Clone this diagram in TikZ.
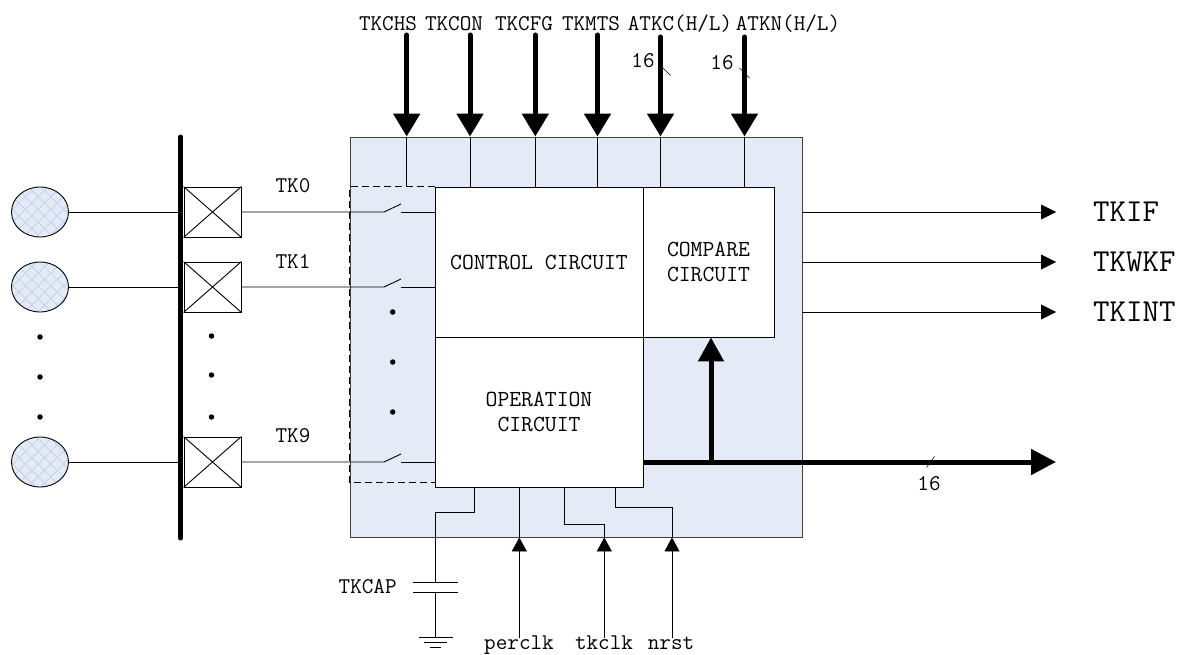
\documentclass[tikz,border=0pt]{standalone}
\usepackage{tikz}
\usetikzlibrary{arrows.meta,patterns.meta,shapes.geometric}
\pgfdeclarelayer{background}
\pgfdeclarelayer{foreground}
\pgfsetlayers{background,main,foreground}
\definecolor{sysblue}{HTML}{E4EBF6}
\definecolor{hatchblue}{HTML}{BFD0EA}
\tikzset{
  wire/.style={draw=black,line width=0.9pt},
  block/.style={draw=black,line width=0.9pt,fill=white,inner sep=0pt,font=\ttfamily\fontsize{23}{25}\selectfont,align=center},
  tag/.style={inner sep=0pt,font=\ttfamily\fontsize{22.5}{24}\selectfont},
  bigtag/.style={inner sep=0pt,anchor=west,font=\ttfamily\fontsize{32}{34}\selectfont},
  busin/.style={line width=5pt,line cap=round,-{Triangle[length=23pt,width=26pt]}},
  busout/.style={line width=5pt,-{Triangle[length=25pt,width=25pt]}},
  sigin/.style={wire,-{Triangle[length=14pt,width=15pt]}},
  sigout/.style={wire,-{Triangle[length=15pt,width=15pt]}},
  dotmark/.style={circle,fill=black,inner sep=0pt,minimum size=5.5pt},
  electrode/.style={ellipse,draw=black,line width=0.9pt,inner sep=0pt,minimum width=57pt,minimum height=50pt,
    preaction={fill=sysblue},
    preaction={pattern={Lines[angle=45,distance=9pt,line width=0.7pt]},pattern color=hatchblue},
    preaction={pattern={Lines[angle=-45,distance=9pt,line width=0.7pt]},pattern color=hatchblue}},
  pad/.style={draw=black,line width=0.9pt,inner sep=0pt,minimum width=57pt,minimum height=50pt},
}
\begin{document}
\begin{tikzpicture}[x=1pt,y=-1pt]
\useasboundingbox (0,0) rectangle (1186,655);
\begin{pgfonlayer}{background}
\node[draw=black!75,line width=0.9pt,fill=sysblue,inner sep=0pt,minimum width=452pt,minimum height=400pt] (sys) at (576,337) {};
\end{pgfonlayer}
% inner blocks
\node[block,minimum width=208pt,minimum height=150pt] (ctrl) at (539,262) {CONTROL CIRCUIT};
\node[block,minimum width=131pt,minimum height=150pt] (cmp) at (708.5,262) {COMPARE\\CIRCUIT};
\node[block,minimum width=208pt,minimum height=150pt] (oper) at (539,412) {OPERATION\\CIRCUIT};
% bus on the left
\coordinate (bustop) at (180.7,137);
\coordinate (busbot) at (180.7,538);
\draw[line width=5pt,line cap=round] (bustop) -- (busbot);
% channels
\foreach \n/\y/\t in {0/212/TK0,1/287/TK1,9/462/TK9}{
  \node[electrode] (el\n) at (40,\y) {};
  \node[pad] (pad\n) at (212.5,\y) {};
  \draw[wire] (el\n.east) -- (el\n.east -| bustop);
  \draw[wire] (pad\n.north west) -- (pad\n.south east);
  \draw[wire] (pad\n.south west) -- (pad\n.north east);
  \node[tag] (lab\n) at (293,\y-26) {\t};
  \coordinate (swa\n) at (384,\y);
  \coordinate (swb\n) at (401,\y-8);
  \coordinate (swc\n) at (401,\y);
  \draw[wire] (pad\n.east) -- (swa\n) -- (swb\n);
  \draw[wire] (swc\n) -- (swc\n -| ctrl.west);
}
% dashed switch group
\coordinate (dashbot) at (435,482.5);
\draw[wire,dash pattern=on 7pt off 4pt] (ctrl.north west) -- (ctrl.north west -| sys.west) -- (dashbot -| sys.west) -- (dashbot);
% dots
\foreach \x/\y [count=\i] in {40/337,40/377,40/417,211.5/336,211.5/375,211.5/417,392.7/312,392.7/362,392.7/412}{
  \node[dotmark] (dot\i) at (\x,\y) {};
}
% inputs on top
\foreach \n/\x/\t/\lx/\ty in {chs/406.7/TKCHS/388/35,con/470/TKCON/454/35,cfg/535.3/TKCFG/524/35,mts/597.5/TKMTS/591/35,atkc/660.5/{ATKC(H/L)}/680/37,atkn/744.5/{ATKN(H/L)}/788/37}{
  \node[tag] (lab\n) at (\lx,24) {\t};
  \coordinate (in\n) at (\x,\ty);
  \draw[busin] (in\n) -- (in\n |- sys.north);
  \draw[wire] (in\n |- sys.north) -- (in\n |- ctrl.north);
}
\node[tag] (wa) at (643,61) {16};
\node[tag] (wb) at (722,63) {16};
\coordinate (wac) at (666.5,71.5);
\coordinate (wbc) at (744.5,73);
\draw[line width=0.6pt] ([shift={(-4,-4)}]wac) -- ([shift={(4,4)}]wac);
\draw[line width=0.6pt] ([shift={(-5,-5)}]wbc) -- ([shift={(5,5)}]wbc);
% outputs
\foreach \n/\y/\t in {if/212/TKIF,wkf/262/TKWKF,int/312/TKINT}{
  \coordinate (out\n) at (1056,\y);
  \draw[sigout] (out\n -| sys.east) -- (out\n);
  \node[bigtag] (lab\n) at (1093,\y) {\t};
}
% data bus
\coordinate (dataout) at (1056,462);
\coordinate (datafork) at (711,462);
\draw[busout] (dataout -| oper.east) -- (dataout);
\draw[line width=5pt,-{Triangle[length=24pt,width=25pt]}] (datafork) -- (datafork |- cmp.south);
\coordinate (datacut) at (930.5,462);
\draw[line width=0.6pt] ([shift={(-4,5.5)}]datacut) -- ([shift={(4,-5.5)}]datacut);
\node[tag] (wc) at (929,484) {16};
% capacitor
\coordinate (capa) at (474,512.7);
\coordinate (capb) at (435.7,582.7);
\coordinate (capc) at (435.7,592.7);
\coordinate (gnd) at (435.7,637.7);
\draw[wire] (capa |- oper.south) -- (capa) -- (capa -| capb) -- (capb);
\draw[wire] ([xshift=-22.7]capb) -- ([xshift=22.7]capb);
\draw[wire] ([xshift=-22.7]capc) -- ([xshift=22.7]capc);
\draw[wire] (capc) -- (gnd);
\draw[wire] ([xshift=-17]gnd) -- ([xshift=17]gnd);
\draw[wire] ([shift={(-11.5,5)}]gnd) -- ([shift={(11.5,5)}]gnd);
\draw[wire] ([shift={(-5.5,10)}]gnd) -- ([shift={(5.5,10)}]gnd);
\node[tag] (labcap) at (367.7,586.7) {TKCAP};
% clock and reset
\coordinate (percin) at (519.3,638);
\coordinate (tkin) at (604.3,638);
\coordinate (rstin) at (672,638);
\coordinate (tka) at (564.3,524.7);
\coordinate (rsta) at (615.3,507.7);
\draw[sigin] (percin) -- (percin |- sys.south);
\draw[sigin] (tkin) -- (tkin |- sys.south);
\draw[sigin] (rstin) -- (rstin |- sys.south);
\draw[wire] (percin |- sys.south) -- (percin |- oper.south);
\draw[wire] (tka |- oper.south) -- (tka) -- (tka -| tkin) -- (tkin |- sys.south);
\draw[wire] (rsta |- oper.south) -- (rsta) -- (rsta -| rstin) -- (rstin |- sys.south);
\node[tag,anchor=base] (labperc) at (519,649.5) {perclk};
\node[tag,anchor=base] (labtk) at (604,649.5) {tkclk};
\node[tag,anchor=base] (labrst) at (671,649.5) {nrst};
\end{tikzpicture}
\end{document}
